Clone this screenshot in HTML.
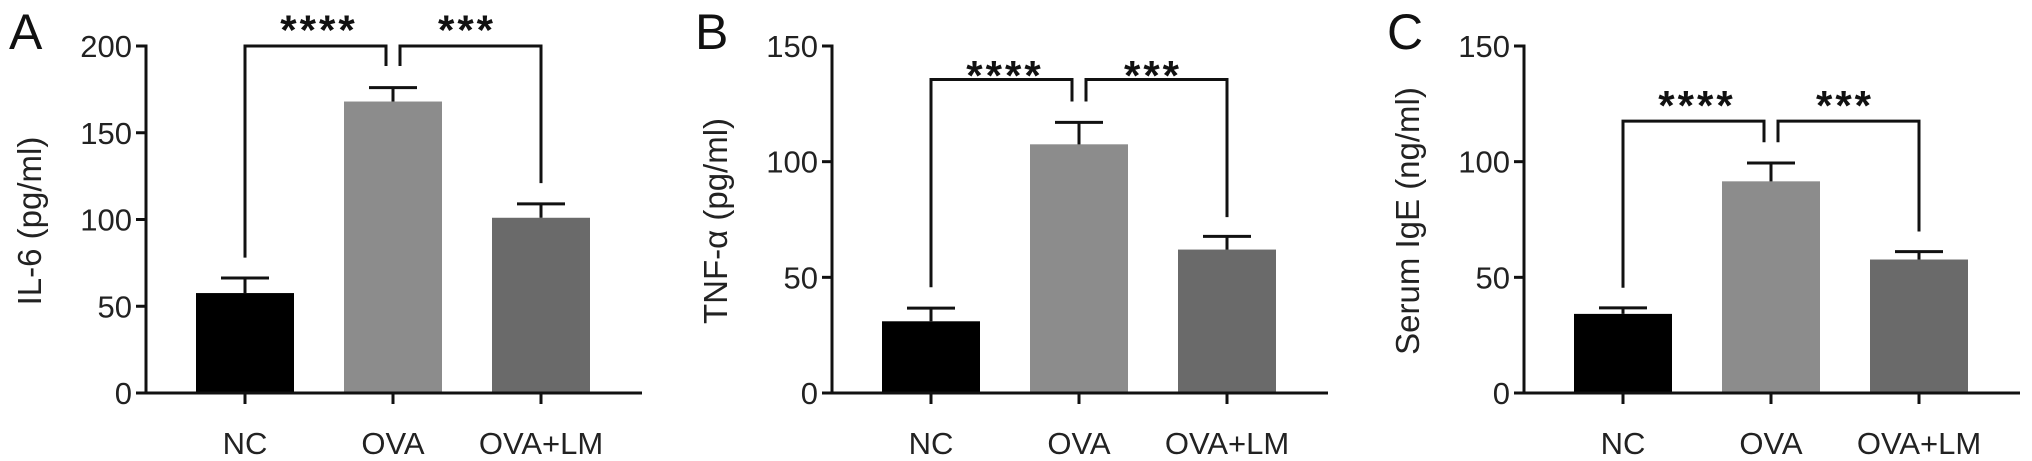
<!DOCTYPE html>
<html><head><meta charset="utf-8"><style>
body{margin:0;background:#fff;}
svg{display:block;font-family:"Liberation Sans",Arial,sans-serif;}
</style></head><body>
<svg id="fig" width="2032" height="461" viewBox="0 0 2032 461"></svg>
<script>
const categories = ["NC","OVA","OVA+LM"];
const panelLetters = ["A","B","C"];
const yTitles = ["IL-6 (pg/ml)","TNF-α (pg/ml)","Serum IgE (ng/ml)"];
const yMaxes = [200,150,150];
const yTickLabels = [[0,50,100,150,200],[0,50,100,150],[0,50,100,150]];
const meansA = [57.6,168,101];
const errsA = [66.3,176,109];
const meansB = [31,107.5,62];
const errsB = [36.7,117,67.7];
const meansC = [34.2,91.5,57.7];
const errsC = [36.8,99.4,61.1];
const bracketTopVals = [200,135.5,117.5];
const bracketDropVals = [[78,188.5,121],[45.7,126,76],[45.5,108.4,69.8]];
const starVals = [213,140,127];
const sigLabels = ["****","***"];

const means=[meansA,meansB,meansC], errs=[errsA,errsB,errsC];
const axisXs=[146,832,1524];
const colors=["#000000","#8c8c8c","#6a6a6a"];
const NS="http://www.w3.org/2000/svg";
const svg=document.getElementById('fig');
const Y0=393, YTOP=46;
function mk(tag,attrs,parent){const e=document.createElementNS(NS,tag);for(const k in attrs)e.setAttribute(k,attrs[k]);(parent||svg).appendChild(e);return e;}
for(let p=0;p<3;p++){
  const ax=axisXs[p];
  const g=mk('g',{});
  
  
  const y=v=>Y0-(v/yMaxes[p])*(Y0-YTOP);
  const x=i=>ax+99+i*148;
  const lt=mk('text',{x:ax-137,y:49,'font-size':50,fill:'#111'},g);lt.textContent=panelLetters[p];
  
  
  const tt=mk('text',{x:0,y:0,'font-size':33,fill:'#222','text-anchor':'middle',transform:`translate(${ax-105},221) rotate(-90)`},g);tt.textContent=yTitles[p];
  
  
  for(let i=0;i<3;i++){
    const cx=x(i);
    const r=mk('rect',{x:cx-49,y:y(means[p][i]),width:98,height:Y0-y(means[p][i]),fill:colors[i]},g);
    
    
    const e=mk('path',{d:`M${cx} ${y(means[p][i])}V${y(errs[p][i])}M${cx-24} ${y(errs[p][i])}H${cx+24}`,stroke:'#111','stroke-width':3,fill:'none'},g);
    
    
    const tk=mk('line',{x1:cx,x2:cx,y1:Y0,y2:Y0+11,stroke:'#111','stroke-width':3},g);
    
    
    const cl=mk('text',{x:cx,y:454,'font-size':31,fill:'#222','text-anchor':'middle'},g);cl.textContent=categories[i];
    
    
  }
  const axl=mk('path',{d:`M${ax-10} ${YTOP}H${ax}V${Y0}M${ax-10} ${Y0}H${x(2)+101}`,stroke:'#111','stroke-width':3,fill:'none'},g);
  
  
  yTickLabels[p].forEach(v=>{
    const tl=mk('line',{x1:ax-10,x2:ax,y1:y(v),y2:y(v),stroke:'#111','stroke-width':3},g);
    
    
    const t=mk('text',{x:ax-14,y:y(v)+11,'font-size':31,fill:'#222','text-anchor':'end'},g);t.textContent=v;
    
    
  });
  const bt=y(bracketTopVals[p]), d=bracketDropVals[p];
  const b1=mk('path',{d:`M${x(0)} ${y(d[0])}V${bt}H${x(1)-7}V${y(d[1])}`,stroke:'#111','stroke-width':3,fill:'none'},g);
  
  
  const b2=mk('path',{d:`M${x(1)+7} ${y(d[1])}V${bt}H${x(2)}V${y(d[2])}`,stroke:'#111','stroke-width':3,fill:'none'},g);
  
  
  const sy=y(starVals[p])+21;
  const s1=mk('text',{x:(x(0)+x(1))/2,y:sy,'font-size':42,'font-weight':'bold',fill:'#111','text-anchor':'middle','letter-spacing':3},g);s1.textContent=sigLabels[0];
  
  
  const s2=mk('text',{x:(x(1)+x(2))/2,y:sy,'font-size':42,'font-weight':'bold',fill:'#111','text-anchor':'middle','letter-spacing':3},g);s2.textContent=sigLabels[1];
  
  
}
</script>
</body></html>
